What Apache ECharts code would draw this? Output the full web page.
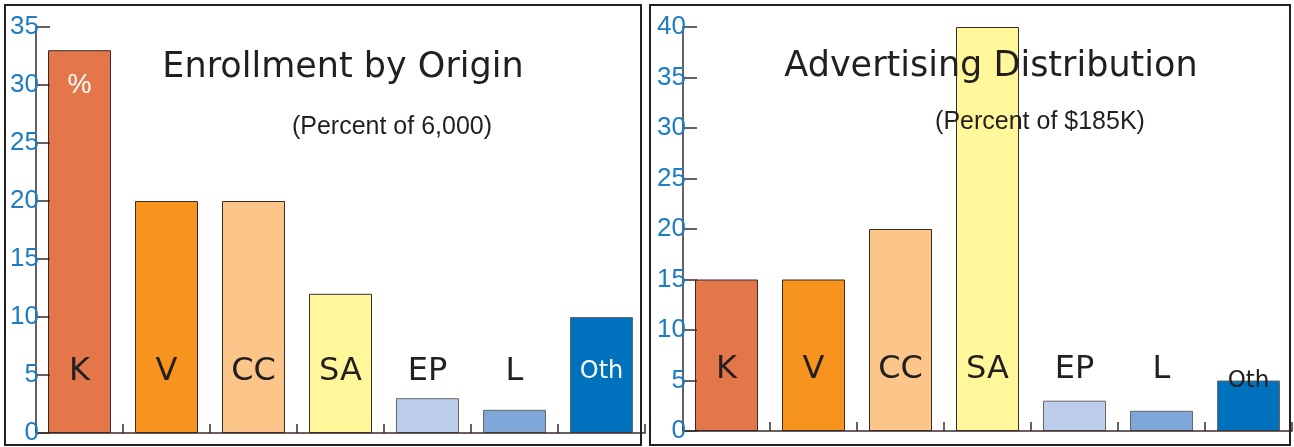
<!DOCTYPE html>
<html lang="en">
<head>
    <meta charset="UTF-8">
    <title>Enrollment and Advertising</title>
    <style type="text/css">
        *{
            margin: 0px;
            padding: 0px;
        }
        body{
            background-color: #fff;
        }
        #main{
            width: 1294px;
            height: 447px;
        }
    </style>
    <script src="https://cdn.jsdelivr.net/npm/echarts@6/dist/echarts.min.js"></script>
</head>
<body>
<div id="main"></div>

<script type="text/javascript">
    // data
    var categories = ['K', 'V', 'CC', 'SA', 'EP', 'L', 'Oth'];
    var enrollValues = [33, 20, 20, 12, 3, 2, 10];
    var adValues = [15, 15, 20, 40, 3, 2, 5];
    var enrollMax = 35;
    var adMax = 40;
    var tickStep = 5;

    var barColors = ['#e4774a', '#f7941d', '#fcc68a', '#fff799', '#bccde9', '#7fa6d8', '#0071bc'];
    var textDark = '#231f20';
    var tickBlue = '#1c7cc4';

    var myChart = echarts.init(document.getElementById('main'));

    function barData(values, withPercent) {
        var data = [];
        for (var i = 0; i < values.length; i++) {
            var item = {
                value: values[i],
                itemStyle: {
                    color: barColors[i],
                    borderColor: i >= 4 ? '#666' : '#3a2a2a',
                    borderWidth: 1
                }
            };
            if (withPercent && i === 0) {
                item.label = {
                    show: true,
                    position: 'insideTop',
                    distance: 22,
                    formatter: '%',
                    color: '#fff',
                    fontSize: 27,
                    fontFamily: 'Liberation Sans'
                };
            }
            data.push(item);
        }
        return data;
    }

    function catAxis(gridIndex, othStyle) {
        return {
            type: 'category',
            gridIndex: gridIndex,
            data: categories,
            z: 5,
            axisLine: {lineStyle: {color: '#3a2a2a', width: 1.5}},
            axisTick: {show: true, inside: true, length: 9, lineStyle: {color: '#3a2a2a', width: 1.5}},
            axisLabel: {
                interval: 0,
                margin: -61,
                verticalAlign: 'middle',
                formatter: function (v) {
                    return v === 'Oth' ? '{o|Oth}' : '{d|' + v + '}';
                },
                rich: {
                    d: {fontSize: 32, color: textDark, fontFamily: 'DejaVu Sans'},
                    o: othStyle
                }
            }
        };
    }

    function valAxis(gridIndex, max) {
        return {
            type: 'value',
            gridIndex: gridIndex,
            min: 0,
            max: max,
            interval: tickStep,
            z: 5,
            splitLine: {show: false},
            axisLine: {show: true, lineStyle: {color: '#3a2a2a', width: 1.5}},
            axisTick: {show: true, inside: true, length: 14, lineStyle: {color: '#3a2a2a', width: 1.5}},
            axisLabel: {
                margin: -3,
                color: tickBlue,
                fontSize: 26,
                fontFamily: 'Liberation Sans'
            }
        };
    }

    var option = {
        animation: false,
        grid: [
            {left: 36, top: 27, width: 609, bottom: 14},
            {left: 683, top: 27, width: 609, bottom: 16}
        ],
        xAxis: [
            catAxis(0, {fontSize: 24, color: '#fff', fontFamily: 'DejaVu Sans'}),
            catAxis(1, {fontSize: 23, color: textDark, fontFamily: 'DejaVu Sans', padding: [22, 0, 0, 0]})
        ],
        yAxis: [
            valAxis(0, enrollMax),
            valAxis(1, adMax)
        ],
        series: [
            {
                name: 'Enrollment',
                type: 'bar',
                xAxisIndex: 0,
                yAxisIndex: 0,
                barWidth: 63,
                data: barData(enrollValues, true)
            },
            {
                name: 'Advertising',
                type: 'bar',
                xAxisIndex: 1,
                yAxisIndex: 1,
                barWidth: 63,
                data: barData(adValues, false)
            }
        ],
        graphic: [
            {
                type: 'rect', z: 50,
                shape: {x: 5, y: 5, width: 636, height: 440},
                style: {fill: 'none', stroke: '#231f20', lineWidth: 2}
            },
            {
                type: 'rect', z: 50,
                shape: {x: 650, y: 5, width: 640, height: 440},
                style: {fill: 'none', stroke: '#231f20', lineWidth: 2}
            },
            {
                type: 'text', z: 60, x: 343, y: 68,
                style: {
                    text: 'Enrollment by Origin', fill: textDark,
                    font: '35px "DejaVu Sans"',
                    align: 'center', verticalAlign: 'middle',
                    textAlign: 'center', textVerticalAlign: 'middle'
                }
            },
            {
                type: 'text', z: 60, x: 392, y: 127,
                style: {
                    text: '(Percent of 6,000)', fill: textDark,
                    font: '25px "Liberation Sans"',
                    align: 'center', verticalAlign: 'middle',
                    textAlign: 'center', textVerticalAlign: 'middle'
                }
            },
            {
                type: 'text', z: 60, x: 991, y: 67,
                style: {
                    text: 'Advertising Distribution', fill: textDark,
                    font: '35px "DejaVu Sans"',
                    align: 'center', verticalAlign: 'middle',
                    textAlign: 'center', textVerticalAlign: 'middle'
                }
            },
            {
                type: 'text', z: 60, x: 1040, y: 122,
                style: {
                    text: '(Percent of $185K)', fill: textDark,
                    font: '25px "Liberation Sans"',
                    align: 'center', verticalAlign: 'middle',
                    textAlign: 'center', textVerticalAlign: 'middle'
                }
            }
        ]
    };

    myChart.setOption(option);
</script>
</body>
</html>
